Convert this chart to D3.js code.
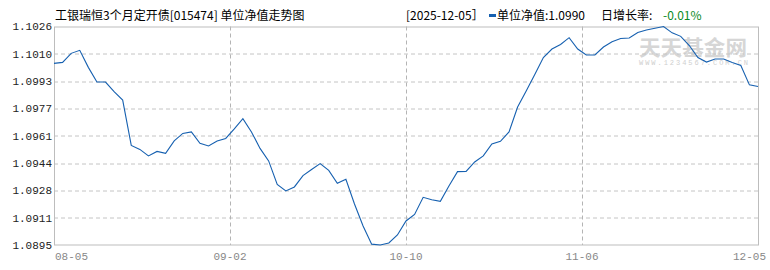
<!DOCTYPE html>
<html>
<head>
<meta charset="utf-8">
<script src="https://cdn.jsdelivr.net/npm/d3@7"></script>
<style>
  body { margin: 0; background: #fff; }
  svg { display: block; }
</style>
</head>
<body>
<div id="chart"></div>
<script>
// unit NAV, one value per trading day, 08-05 .. 12-05
var navValues = [
  1.10039, 1.10045, 1.10099, 1.10117, 1.10015, 1.09927, 1.09927, 1.09869, 1.09819, 1.09547,
  1.09523, 1.09484, 1.09511, 1.09500, 1.09574, 1.09619, 1.09628, 1.09560, 1.09544, 1.09574,
  1.09589, 1.09646, 1.09707, 1.09628, 1.09529, 1.09454, 1.09313, 1.09274, 1.09298, 1.09366,
  1.09403, 1.09438, 1.09397, 1.09320, 1.09344, 1.09196, 1.09064, 1.08955, 1.08950, 1.08962,
  1.09010, 1.09094, 1.09133, 1.09236, 1.09221, 1.09212, 1.09304, 1.09390, 1.09391, 1.09448,
  1.09484, 1.09556, 1.09572, 1.09628, 1.09777, 1.09873, 1.09972, 1.10074, 1.10125, 1.10152,
  1.10193, 1.10125, 1.10089, 1.10089, 1.10137, 1.10169, 1.10188, 1.10191, 1.10224, 1.10239,
  1.10250, 1.10260, 1.10222, 1.10201, 1.10146, 1.10074, 1.10047, 1.10065, 1.10065, 1.10044,
  1.10026, 1.09910, 1.09900
];
var xTickLabels = ["08-05", "09-02", "10-10", "11-06", "12-05"];
var yTickLabels = ["1.0895", "1.0911", "1.0928", "1.0944", "1.0961", "1.0977", "1.0993", "1.1010", "1.1026"];
var yDomain = [1.0895, 1.1026];

var titleText = "工银瑞恒3个月定开债[015474] 单位净值走势图";
var dateText = "[2025-12-05］";
var navText = "单位净值:1.0990";
var rateLabel = "日增长率:";
var rateText = "-0.01%";

var W = 770, H = 270;
var margin = {top: 26.5, right: 12, bottom: 25, left: 54};
var width = W - margin.left - margin.right,
    height = H - margin.top - margin.bottom;

var cjk = "'Noto Sans CJK SC', sans-serif";
var mono = "'Liberation Mono', 'DejaVu Sans Mono', monospace";

var svg = d3.select("#chart").append("svg")
    .attr("width", W)
    .attr("height", H);

// header texts
svg.append("text")
    .attr("x", 55).attr("y", 20)
    .style("font-family", cjk).style("font-size", "12px").style("fill", "#000")
    .text(titleText);

svg.append("text")
    .attr("x", 406).attr("y", 20)
    .style("font-family", cjk).style("font-size", "12px").style("fill", "#000")
    .text(dateText);

svg.append("rect")
    .attr("x", 489).attr("y", 14).attr("width", 7).attr("height", 3)
    .style("fill", "#1660b0");

svg.append("text")
    .attr("x", 497).attr("y", 20)
    .style("font-family", cjk).style("font-size", "12px").style("fill", "#000")
    .text(navText);

svg.append("text")
    .attr("x", 601).attr("y", 20)
    .style("font-family", cjk).style("font-size", "12px").style("fill", "#000")
    .text(rateLabel);

svg.append("text")
    .attr("x", 663).attr("y", 20)
    .style("font-family", cjk).style("font-size", "12px").style("fill", "#0a8a1e")
    .text(rateText);

var g = svg.append("g")
    .attr("transform", "translate(" + margin.left + "," + margin.top + ")");

var x = d3.scaleLinear().domain([0, navValues.length - 1]).range([0, width]);
var y = d3.scaleLinear().domain(yDomain).range([height, 0]);

// watermark
g.append("text")
    .attr("x", 585).attr("y", 28)
    .attr("textLength", 108).attr("lengthAdjust", "spacingAndGlyphs")
    .style("font-family", cjk).style("font-size", "21px").style("font-weight", "bold")
    .style("fill", "#d6d6d6")
    .text("天天基金网");
g.append("text")
    .attr("x", 585).attr("y", 38.5)
    .attr("textLength", 109).attr("lengthAdjust", "spacing")
    .style("font-family", mono).style("font-size", "7px")
    .style("fill", "#cfcfcf")
    .text("WWW.1234567.COM.CN");

// horizontal grid
var yTicks = yTickLabels.map(function(d, i) {
  return yDomain[0] + i * (yDomain[1] - yDomain[0]) / (yTickLabels.length - 1);
});
g.selectAll("line.hgrid")
    .data(yTicks.slice(1, -1))
  .enter().append("line")
    .attr("class", "hgrid")
    .attr("x1", 0).attr("x2", width)
    .attr("y1", function(d) { return Math.round(y(d)) + 0.5; })
    .attr("y2", function(d) { return Math.round(y(d)) + 0.5; })
    .style("stroke", "#c4c4c4").style("stroke-dasharray", "4,3");

// vertical grid at quarter positions
var xTicks = xTickLabels.map(function(d, i) {
  return i * (navValues.length - 1) / (xTickLabels.length - 1);
});
g.selectAll("line.vgrid")
    .data(xTicks.slice(1, -1))
  .enter().append("line")
    .attr("class", "vgrid")
    .attr("y1", 0).attr("y2", height)
    .attr("x1", function(d) { return Math.round(x(d)) + 0.5; })
    .attr("x2", function(d) { return Math.round(x(d)) + 0.5; })
    .style("stroke", "#b4b4b4").style("stroke-dasharray", "4,3");

// frame
g.append("rect")
    .attr("x", 0.5).attr("y", 0.5)
    .attr("width", width).attr("height", height - 0.5)
    .style("fill", "none").style("stroke", "#bdbdbd");

// y labels
g.selectAll("text.ylab")
    .data(yTicks)
  .enter().append("text")
    .attr("class", "ylab")
    .attr("x", -2)
    .attr("y", function(d) { return y(d); })
    .attr("dy", "0.35em")
    .attr("text-anchor", "end")
    .style("font-family", mono).style("font-size", "11px").style("fill", "#222")
    .text(function(d, i) { return yTickLabels[i]; });

// x labels
g.selectAll("text.xlab")
    .data(xTicks)
  .enter().append("text")
    .attr("class", "xlab")
    .attr("x", function(d, i) {
      if (i === 0) return 1;
      if (i === xTicks.length - 1) return width + 8;
      return x(d);
    })
    .attr("y", height + 15)
    .attr("text-anchor", function(d, i) {
      return i === 0 ? "start" : i === xTicks.length - 1 ? "end" : "middle";
    })
    .style("font-family", mono).style("font-size", "11px").style("fill", "#888")
    .text(function(d, i) { return xTickLabels[i]; });

// NAV line
var line = d3.line()
    .x(function(d, i) { return x(i); })
    .y(function(d) { return y(d); });

g.append("path")
    .datum(navValues)
    .attr("d", line)
    .style("fill", "none")
    .style("stroke", "#1660b0")
    .style("stroke-width", 1.1);
</script>
</body>
</html>
